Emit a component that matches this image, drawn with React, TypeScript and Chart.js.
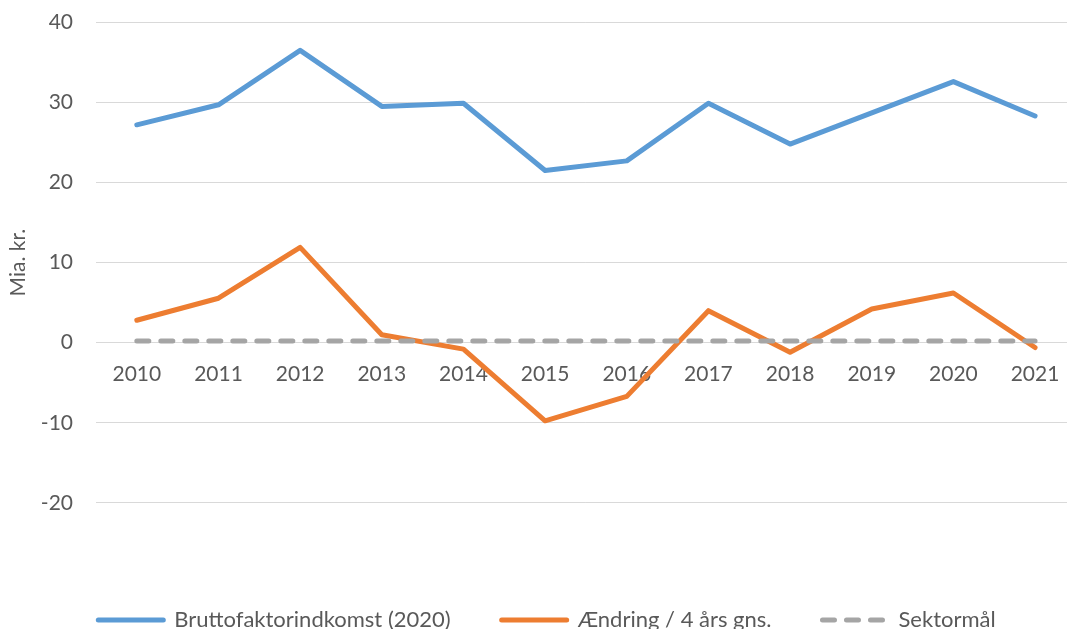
import React, { useEffect, useRef } from "react";
import { Chart, registerables } from "chart.js";

Chart.register(...registerables);

const years = ["2010", "2011", "2012", "2013", "2014", "2015", "2016", "2017", "2018", "2019", "2020", "2021"];
const bruttofaktor = [27.2, 29.7, 36.5, 29.5, 29.9, 21.5, 22.7, 29.9, 24.8, 28.7, 32.6, 28.3];
const aendring = [2.8, 5.55, 11.9, 1.0, -0.8, -9.75, -6.7, 4.0, -1.2, 4.2, 6.2, -0.6];
const sektormaal = [0.2, 0.2, 0.2, 0.2, 0.2, 0.2, 0.2, 0.2, 0.2, 0.2, 0.2, 0.2];
const seriesLabels = ["Bruttofaktorindkomst (2020)", "Ændring / 4 års gns.", "Sektormål"];
const yTitle = "Mia. kr.";

const FONT = "Lato";
const TEXT = "#595959";
const W = 1078;
const H = 641;

export default function App() {
  const ref = useRef<HTMLCanvasElement | null>(null);

  useEffect(() => {
    document.documentElement.style.overflow = "hidden";
    const canvas = ref.current;
    if (!canvas) return;
    const chart = new Chart(canvas, {
      type: "line",
      data: {
        labels: years,
        datasets: [
          {
            label: seriesLabels[0],
            data: bruttofaktor,
            borderColor: "#5B9BD5",
            backgroundColor: "#5B9BD5",
            borderWidth: 5,
            borderCapStyle: "round",
            borderJoinStyle: "round",
            pointRadius: 0,
            tension: 0,
            order: 2,
          },
          {
            label: seriesLabels[1],
            data: aendring,
            borderColor: "#ED7D31",
            backgroundColor: "#ED7D31",
            borderWidth: 5,
            borderCapStyle: "round",
            borderJoinStyle: "round",
            pointRadius: 0,
            tension: 0,
            order: 1,
          },
          {
            label: seriesLabels[2],
            data: sektormaal,
            borderColor: "#A5A5A5",
            backgroundColor: "#A5A5A5",
            borderWidth: 5,
            borderDash: [12, 12],
            borderCapStyle: "round",
            pointRadius: 0,
            tension: 0,
            order: 0,
          },
        ],
      },
      options: {
        responsive: false,
        animation: false,
        devicePixelRatio: 1,
        layout: { padding: { top: 22.3, bottom: 0, left: 16, right: 0 } },
        font: { family: FONT, size: 21 },
        scales: {
          x: {
            type: "category",
            position: { y: 0 } as any,
            offset: true,
            grid: { display: false, drawTicks: false },
            border: { display: false },
            ticks: {
              color: TEXT,
              font: { family: FONT, size: 21 },
              padding: 18.5,
              maxRotation: 0,
              autoSkip: false,
            },
          },
          x2: {
            type: "category",
            position: "bottom",
            display: true,
            grid: { display: false, drawTicks: false },
            border: { display: false },
            ticks: { display: false },
            afterFit: (s: any) => {
              s.height = 55.1;
            },
          },
          y: {
            type: "linear",
            position: "left",
            min: -20,
            max: 40,
            grid: { color: "#D9D9D9", lineWidth: 1, drawTicks: false },
            border: { display: false },
            ticks: {
              stepSize: 10,
              color: TEXT,
              font: { family: FONT, size: 21 },
              padding: 23,
            },
            title: {
              display: true,
              text: yTitle,
              color: TEXT,
              font: { family: FONT, size: 21 },
              padding: { top: -10, bottom: 0 },
            },
            afterFit: (s: any) => {
              s.width = 80;
              s.paddingTop = 0;
              s.paddingBottom = 0;
            },
          },
        },
        plugins: {
          tooltip: { enabled: false },
          legend: {
            display: true,
            position: "bottom",
            labels: {
              usePointStyle: true,
              pointStyle: "line",
              pointStyleWidth: 65,
              padding: 51,
              color: TEXT,
              font: { family: FONT, size: 22 },
              generateLabels: (c: any) =>
                c.data.datasets.map((ds: any, i: number) => ({
                  text: ds.label,
                  fillStyle: ds.borderColor,
                  strokeStyle: ds.borderColor,
                  fontColor: TEXT,
                  lineWidth: 5,
                  lineDash: ds.borderDash || [],
                  lineCap: "round",
                  lineJoin: "round",
                  pointStyle: "line",
                  hidden: false,
                  datasetIndex: i,
                })),
            },
          },
        },
      },
    });
    return () => chart.destroy();
  }, []);

  return (
    <div style={{ position: "fixed", left: 0, top: 0, width: W, height: H, overflow: "hidden", background: "#fff" }}>
      <canvas ref={ref} width={W} height={H} style={{ display: "block", width: W, height: H }} />
    </div>
  );
}
